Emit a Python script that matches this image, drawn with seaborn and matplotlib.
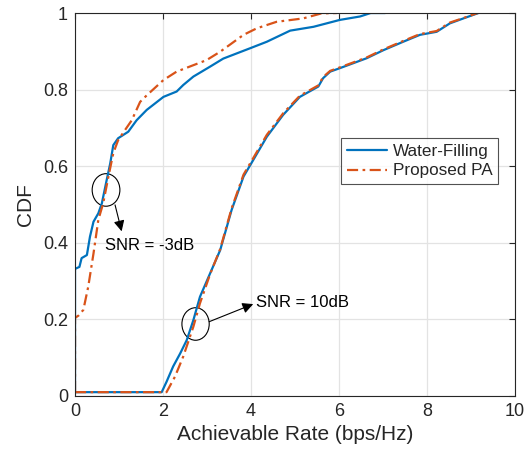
import numpy as np
import pandas as pd
import matplotlib
matplotlib.use("Agg")
import matplotlib.pyplot as plt
from matplotlib.patches import Ellipse
import seaborn as sns

# ---- data ----
wf_m3_x = [0, 0, 0.02, 0.10, 0.15, 0.27, 0.34, 0.42, 0.53, 0.61, 0.72, 0.80, 0.87, 0.98, 1.21, 1.40,
           1.63, 2.01, 2.31, 2.46, 2.69, 3.07, 3.37, 3.98, 4.36, 4.89, 5.42, 6.02, 6.48, 6.72, 7.05]
wf_m3_y = [0.01, 0.333, 0.333, 0.337, 0.36, 0.368, 0.416, 0.455, 0.477, 0.503, 0.564, 0.607, 0.655, 0.673, 0.69, 0.72,
           0.747, 0.781, 0.795, 0.812, 0.834, 0.86, 0.881, 0.908, 0.925, 0.954, 0.964, 0.982, 0.991, 1.0, 1.0]

pa_m3_x = [0, 0, 0.08, 0.19, 0.30, 0.42, 0.53, 0.64, 0.76, 0.87, 0.98, 1.14, 1.29, 1.48, 1.63, 2.01,
           2.31, 2.99, 3.30, 3.83, 4.13, 4.58, 5.19, 5.60, 5.95]
pa_m3_y = [0.01, 0.204, 0.21, 0.225, 0.285, 0.372, 0.46, 0.503, 0.573, 0.634, 0.668, 0.695, 0.72, 0.768, 0.785, 0.825,
           0.847, 0.877, 0.899, 0.943, 0.96, 0.977, 0.986, 0.999, 1.0]

wf_10_x = [0, 1.97, 2.08, 2.23, 2.39, 2.54, 2.69, 2.84, 3.07, 3.30, 3.56, 3.83, 4.05, 4.36, 4.73,
           5.11, 5.53, 5.64, 5.80, 6.02, 6.63, 7.01, 7.46, 7.84, 8.22, 8.52, 8.83, 9.17]
wf_10_y = [0.01, 0.01, 0.037, 0.077, 0.111, 0.146, 0.198, 0.259, 0.32, 0.381, 0.486, 0.573, 0.616, 0.677, 0.734,
           0.781, 0.808, 0.83, 0.847, 0.856, 0.882, 0.903, 0.925, 0.943, 0.951, 0.973, 0.986, 1.0]

pa_10_x = [0, 2.08, 2.27, 2.46, 2.69, 2.84, 3.07, 3.30, 3.56, 3.83, 4.05, 4.36, 4.73,
           5.11, 5.53, 5.64, 5.80, 6.02, 6.63, 7.01, 7.46, 7.84, 8.22, 8.52, 8.83, 9.15]
pa_10_y = [0.01, 0.01, 0.05, 0.103, 0.181, 0.242, 0.318, 0.384, 0.49, 0.578, 0.621, 0.682, 0.738,
           0.784, 0.811, 0.833, 0.849, 0.858, 0.884, 0.905, 0.927, 0.945, 0.953, 0.975, 0.987, 1.0]

x_ticks = [0, 2, 4, 6, 8, 10]
y_ticks = [0, 0.2, 0.4, 0.6, 0.8, 1]
y_tick_labels = ["0", "0.2", "0.4", "0.6", "0.8", "1"]

# ---- style ----
sns.set_style("white")
plt.rcParams["font.family"] = ["Liberation Sans", "DejaVu Sans"]

blue = "#0072BD"
orange = "#D95319"
dashdot = (0, (5, 2, 1.2, 2))

fig = plt.figure(figsize=(5.29, 4.55), dpi=100)
ax = fig.add_axes([0.1418, 0.1297, 0.8317, 0.8417])

sns.lineplot(x=wf_m3_x, y=wf_m3_y, ax=ax, color=blue, lw=1.6, sort=False, estimator=None,
             label="Water-Filling")
sns.lineplot(x=pa_m3_x, y=pa_m3_y, ax=ax, color=orange, lw=1.6, sort=False, estimator=None,
             linestyle=dashdot, label="Proposed PA")
sns.lineplot(x=wf_10_x, y=wf_10_y, ax=ax, color=blue, lw=1.6, sort=False, estimator=None)
sns.lineplot(x=pa_10_x, y=pa_10_y, ax=ax, color=orange, lw=1.6, sort=False, estimator=None,
             linestyle=dashdot)

ax.set_xlim(0, 10)
ax.set_ylim(0, 1)
ax.set_xticks(x_ticks)
ax.set_yticks(y_ticks)
ax.set_yticklabels(y_tick_labels)
ax.grid(True, color="#E3E3E3", lw=0.9)
ax.set_axisbelow(True)
for s in ax.spines.values():
    s.set_color("#262626")
    s.set_linewidth(0.8)
    s.set_visible(True)
ax.tick_params(direction="in", length=4.5, width=0.8, colors="#262626", labelsize=13,
               top=True, right=True, labelcolor="#262626", pad=5)
ax.set_xlabel("Achievable Rate (bps/Hz)", fontsize=15, color="#262626", labelpad=4)
ax.set_ylabel("CDF", fontsize=15, color="#262626", labelpad=6)

leg = ax.legend(loc="upper right", bbox_to_anchor=(0.962, 0.673), fontsize=12.3,
                frameon=True, fancybox=False, handlelength=2.3, borderpad=0.35,
                labelspacing=0.25, handletextpad=0.35, borderaxespad=0)
leg.get_frame().set_edgecolor("#262626")
leg.get_frame().set_linewidth(0.8)

# annotations
ax.add_patch(Ellipse((0.705, 0.538), 0.63, 0.085, fill=False, ec="black", lw=0.8))
ax.add_patch(Ellipse((2.74, 0.188), 0.62, 0.085, fill=False, ec="black", lw=0.8))
ax.annotate("", xy=(1.06, 0.43), xytext=(0.91, 0.499),
            arrowprops=dict(arrowstyle="-|>", color="black", lw=0.8, mutation_scale=16,
                            shrinkA=0, shrinkB=0))
ax.annotate("", xy=(4.05, 0.24), xytext=(3.05, 0.194),
            arrowprops=dict(arrowstyle="-|>", color="black", lw=0.8, mutation_scale=16,
                            shrinkA=0, shrinkB=0))
ax.text(0.68, 0.392, "SNR = -3dB", fontsize=12, va="center", ha="left", color="black")
ax.text(4.11, 0.245, "SNR = 10dB", fontsize=12, va="center", ha="left", color="black")

fig.savefig("out.png", dpi=100)
